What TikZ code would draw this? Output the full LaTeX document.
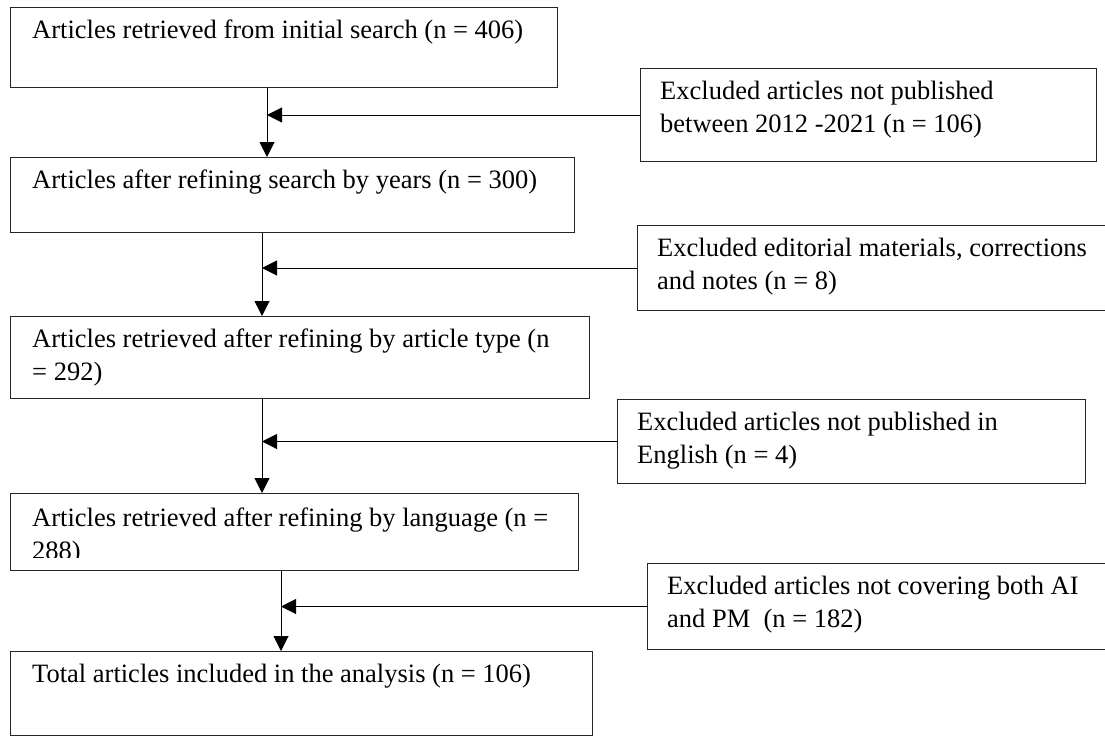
\documentclass[tikz,border=0pt]{standalone}
\usepackage{fontspec}
\setmainfont{Liberation Serif}
\usetikzlibrary{arrows.meta}
\begin{document}
\begin{tikzpicture}[x=1pt,y=-1pt,
  box/.style={draw=black!85, line width=1pt, rectangle, inner sep=0pt, anchor=north west},
  txt/.style={anchor=base west, inner sep=0pt, font=\fontsize{26.5}{33}\selectfont},
  arr/.style={draw=black, line width=1pt, -{Triangle[length=15pt,width=15pt]}}]
\useasboundingbox (0,0) rectangle (1105,736);

% left boxes
\node[box, minimum width=547pt, minimum height=80pt] (b1) at (10,7) {};
\node[box, minimum width=564pt, minimum height=75pt] (b2) at (10,157) {};
\node[box, minimum width=579pt, minimum height=82pt] (b3) at (10,316) {};
\node[box, minimum width=568pt, minimum height=77pt] (b4) at (10,493) {};
\node[box, minimum width=582pt, minimum height=84pt] (b5) at (10,651) {};

% right boxes
\node[box, minimum width=456pt, minimum height=93pt] (r1) at (640,68) {};
\node[box, minimum width=471pt, minimum height=85pt] (r2) at (637,225) {};
\node[box, minimum width=468pt, minimum height=84pt] (r3) at (617,399) {};
\node[box, minimum width=461pt, minimum height=86pt] (r4) at (647,563) {};

% texts
\node[txt] (t1) at (32,38) {Articles retrieved from initial search (n = 406)};
\node[txt] (t2) at (32,188) {Articles after refining search by years (n = 300)};
\node[txt] (t3) at (32,347) {\parbox[t]{560pt}{Articles retrieved after refining by article type (n\\= 292)}};
\begin{scope}
\clip (10,493) rectangle (578,557);
\node[txt] (t4) at (32,526) {\parbox[t]{560pt}{Articles retrieved after refining by language (n =\\288)}};
\end{scope}
\node[txt] (t5) at (32,682) {Total articles included in the analysis (n = 106)};

\node[txt] (u1) at (660,99) {\parbox[t]{440pt}{Excluded articles not published\\between 2012 -2021 (n = 106)}};
\node[txt] (u2) at (657,256) {\parbox[t]{450pt}{Excluded editorial materials, corrections\\and notes (n = 8)}};
\node[txt] (u3) at (637,430) {\parbox[t]{450pt}{Excluded articles not published in\\English (n = 4)}};
\node[txt] (u4) at (667,594) {\parbox[t]{440pt}{Excluded articles not covering both AI\\and PM\ \ (n = 182)}};

% line positions
\coordinate (c1) at (267,0);
\coordinate (c2) at (262,0);
\coordinate (c3) at (262,0);
\coordinate (c4) at (281,0);

% vertical connectors
\draw[arr] (b1.south -| c1) -- (b2.north -| c1);
\draw[arr] (b2.south -| c2) -- (b3.north -| c2);
\draw[arr] (b3.south -| c3) -- (b4.north -| c3);
\draw[arr] (b4.south -| c4) -- (b5.north -| c4);

% horizontal connectors
\draw[arr] (r1.west) -- (r1.west -| c1);
\draw[arr] (r2.west) -- (r2.west -| c2);
\draw[arr] (r3.west) -- (r3.west -| c3);
\draw[arr] (r4.west) -- (r4.west -| c4);
\end{tikzpicture}
\end{document}
